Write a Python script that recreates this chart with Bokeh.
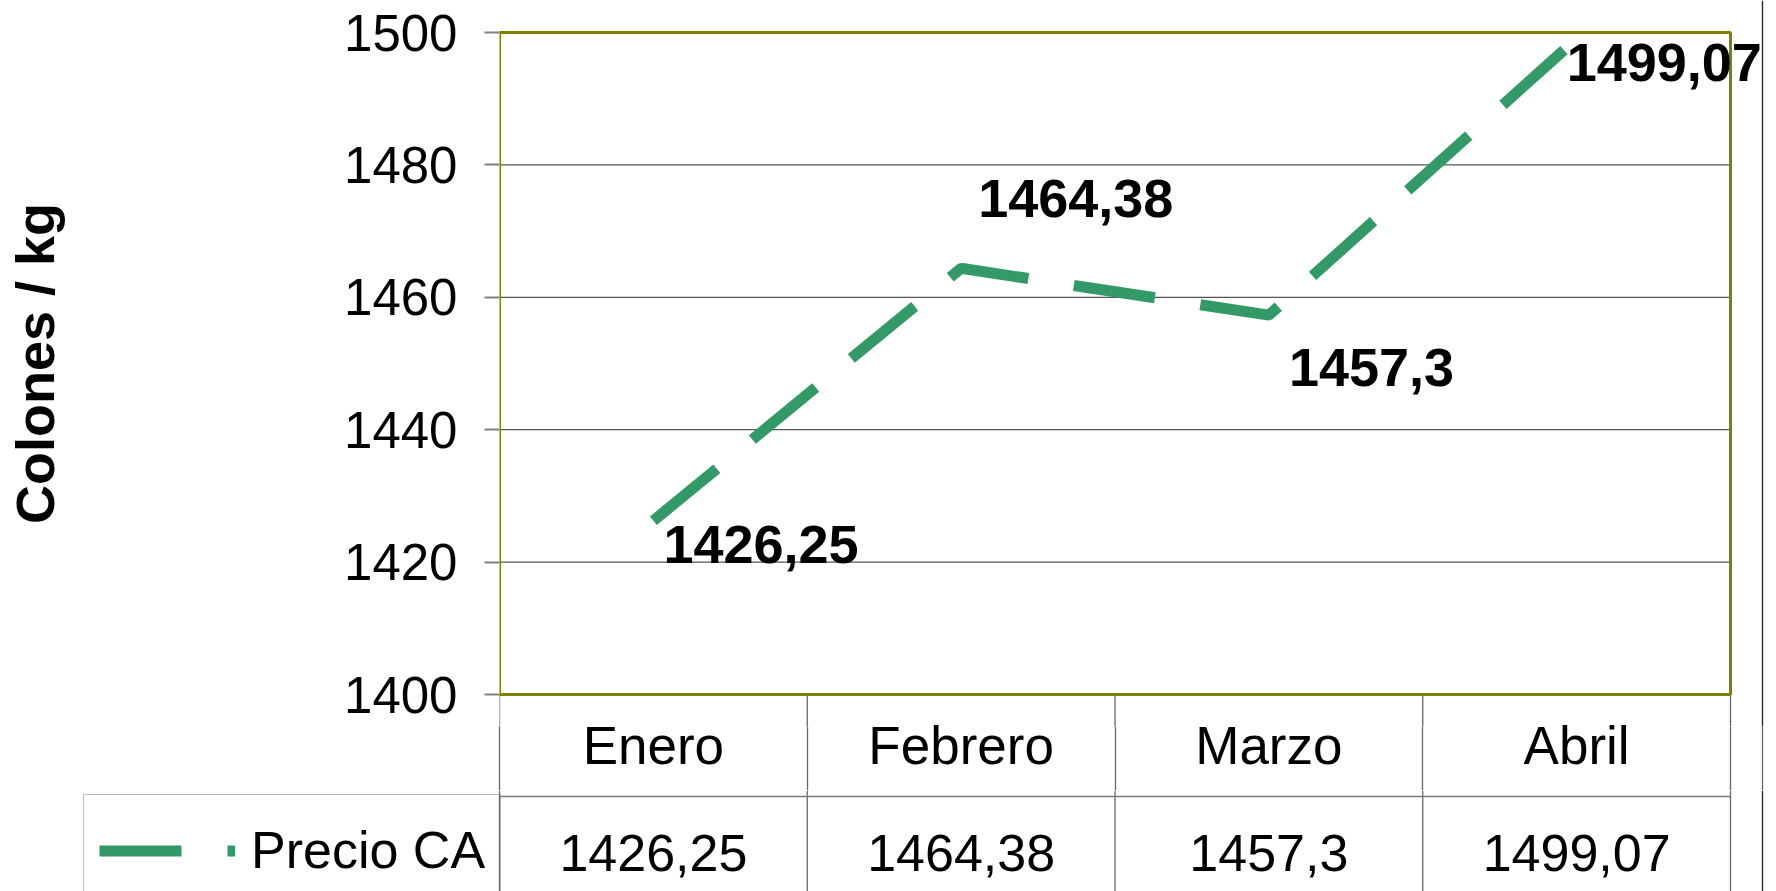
from bokeh.plotting import figure
from bokeh.layouts import column
from bokeh.models import Range1d, FixedTicker, Legend, LegendItem, ColumnDataSource
from bokeh.core.properties import value
from bokeh.embed import file_html
from bokeh.resources import INLINE

# ---------------- data ----------------
months = ["Enero", "Febrero", "Marzo", "Abril"]
precio_ca = [1426.25, 1464.38, 1457.3, 1499.07]
y_ticks = [1400, 1420, 1440, 1460, 1480, 1500]
series_name = "Precio CA"
y_title = "Colones / kg"

# ---------------- layout (page pixels) ----------------
W = 1776
FRAME_BOTTOM = 726    # bottom of chart frame (frame centre = axis title centre)
H_TOP = 790           # chart figure height  (page 0 .. 790)
H_BOT = 101           # table figure height  (page 790 .. 891)
FRAME_LEFT = 499      # left edge of plot area
CAT_RIGHT = 1730      # right edge of last category
Y_TOP = 32            # pixel of y max
Y_BOT = 694           # pixel of y min
ROW_SEP = 796         # line between category row and value row
CAT_TOP = 715         # top of category label boxes
VAL_MID = 852         # centre of value row
RIGHT_RULE = 1762     # outer right rule
LEG_LEFT = 83         # left edge of legend cell

FONT = "Liberation Sans"
GREEN = "#339966"
OLIVE = "#808000"
GRID = "#555555"
TABLE = "#666666"

ncat = len(months)
ymin, ymax = y_ticks[0], y_ticks[-1]
px_x = (CAT_RIGHT - FRAME_LEFT) / ncat
px_y = (Y_BOT - Y_TOP) / (ymax - ymin)
H = H_TOP + H_BOT
TICK_DOWN = H_TOP - FRAME_BOTTOM


def xdata(px):
    return (px - FRAME_LEFT) / px_x


def ydata(py):
    return ymax - (py - Y_TOP) / px_y


xc = [i + 0.5 for i in range(ncat)]
bounds = list(range(ncat + 1))
labels = [str(v).replace(".", ",") for v in precio_ca]
# label offsets (pixels) relative to each point
lab_dx = [10, 17, 20, -10]
lab_dy = [24, -70, 52, 24]

# ================= chart figure =================
y_start = ydata(FRAME_BOTTOM)
y_end = ydata(0)
p = figure(width=W, height=H_TOP, x_range=Range1d(0, xdata(W)),
           y_range=Range1d(y_start, y_end),
           x_axis_location="below", y_axis_location="left",
           min_border_left=FRAME_LEFT, min_border_right=0, min_border_top=0,
           min_border_bottom=TICK_DOWN, output_backend="svg",
           toolbar_location=None, outline_line_color=None,
           background_fill_color="white", border_fill_color="white")
p.frame_align = False
p.grid.visible = False

inner = y_ticks[1:-1]
p.segment(x0=[0] * len(inner), x1=[ncat] * len(inner), y0=inner, y1=inner,
          line_color=GRID, line_width=1.3)
p.segment(x0=bounds, x1=bounds, y0=[y_start] * len(bounds), y1=[ymin] * len(bounds),
          line_color=TABLE, line_width=1.3)
p.segment(x0=[xdata(RIGHT_RULE)], x1=[xdata(RIGHT_RULE)], y0=[y_start], y1=[y_end],
          line_color="#222222", line_width=1.3)
p.quad(left=[0], right=[ncat], bottom=[ymin], top=[ymax], fill_color=None,
       line_color=OLIVE, line_width=3)

line_style = dict(line_color=GREEN, line_width=11, line_dash="82 46", line_cap="butt")
p.line(xc, precio_ca, **line_style)

src = ColumnDataSource(dict(x=xc, y=precio_ca, t=labels, dx=lab_dx, dy=lab_dy))
p.text(x="x", y="y", text="t", x_offset="dx", y_offset="dy", source=src,
       text_font=value(FONT), text_font_style="bold", text_font_size="54px",
       text_baseline="middle", text_align="left", text_color="black")

# y axis
ax = p.yaxis[0]
ax.ticker = FixedTicker(ticks=y_ticks)
ax.bounds = (ymin, ymax)
ax.axis_line_color = None
ax.major_tick_in = 0
ax.major_tick_out = 15
ax.major_tick_line_color = "#808080"
ax.major_tick_line_width = 2
ax.minor_tick_line_color = None
ax.major_label_text_font = FONT
ax.major_label_text_font_size = "51px"
ax.major_label_text_color = "black"
ax.major_label_standoff = 27
ax.axis_label = y_title
ax.axis_label_text_font = FONT
ax.axis_label_text_font_style = "bold"
ax.axis_label_text_font_size = "54px"
ax.axis_label_text_color = "black"
ax.axis_label_standoff = 276

# x axis = category row of the data table (minor ticks are the cell borders)
xa = p.xaxis[0]
xa.ticker = FixedTicker(ticks=xc, minor_ticks=bounds + [xdata(RIGHT_RULE)])
xa.major_label_overrides = {x: m for x, m in zip(xc, months)}
xa.axis_line_color = None
xa.major_tick_in = 0
xa.major_tick_out = 0
xa.minor_tick_in = 0
xa.minor_tick_out = TICK_DOWN
xa.minor_tick_line_color = TABLE
xa.minor_tick_line_width = 1.3
xa.major_label_standoff = (CAT_TOP - FRAME_BOTTOM) - TICK_DOWN
xa.major_label_text_font = FONT
xa.major_label_text_font_size = "53px"
xa.major_label_text_color = "black"

# ================= table figure (value row) =================
t = figure(width=W, height=H_BOT, x_range=Range1d(xdata(0), xdata(W)),
           y_range=Range1d(H, H_TOP),
           x_axis_location=None, y_axis_location=None,
           min_border_left=0, min_border_right=0, min_border_top=0,
           min_border_bottom=0, output_backend="svg", toolbar_location=None,
           outline_line_color=None, background_fill_color="white",
           border_fill_color="white")
t.frame_align = False
t.grid.visible = False

t.segment(x0=bounds, x1=bounds, y0=[H_TOP] * len(bounds), y1=[H] * len(bounds),
          line_color=TABLE, line_width=1.3)
t.segment(x0=[0], x1=[ncat], y0=[ROW_SEP], y1=[ROW_SEP], line_color="#777777", line_width=1.5)
t.segment(x0=[xdata(RIGHT_RULE)], x1=[xdata(RIGHT_RULE)], y0=[H_TOP], y1=[H],
          line_color="#222222", line_width=1.3)

t.text(x=xc, y=[VAL_MID] * ncat, text=labels, text_font=value(FONT),
       text_font_size="52px", text_baseline="middle", text_align="center", text_color="black")

# the series itself, outside this figure's visible range, serves as the legend key
key = t.line(xc, precio_ca, **line_style)
LEG_H = 110
legend = Legend(items=[LegendItem(label=series_name, renderers=[key])],
                location=(LEG_LEFT, H - (ROW_SEP + LEG_H)),
                padding=15, margin=0, spacing=0,
                glyph_width=136, glyph_height=13, label_standoff=16,
                label_width=FRAME_LEFT - LEG_LEFT - 15 - 136 - 16 - 15, label_height=80,
                border_line_color="#777777", border_line_width=1.5,
                background_fill_alpha=0, label_text_font=FONT,
                label_text_font_size="52px", label_text_color="black")
t.add_layout(legend)

layout = column(p, t, spacing=0)
open("out.html", "w").write(file_html(layout, INLINE))
